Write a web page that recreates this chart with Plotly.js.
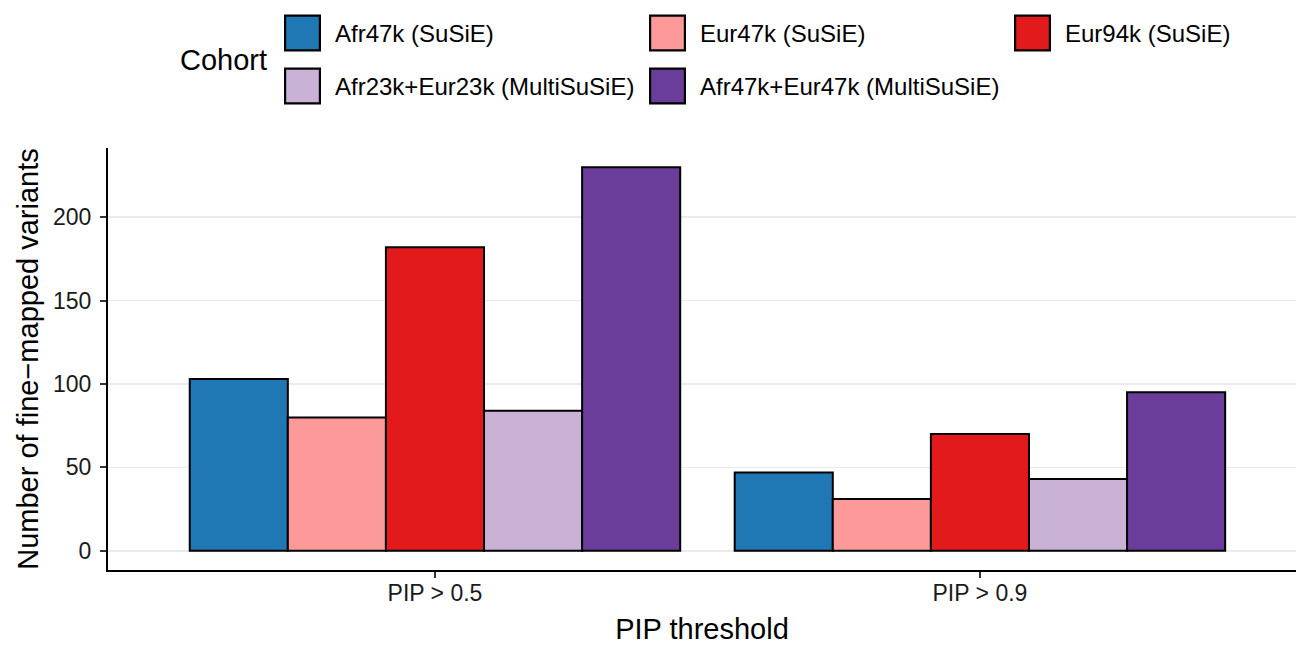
<!DOCTYPE html>
<html><head><meta charset="utf-8">
<script src="https://cdn.plot.ly/plotly-3.0.1.min.js"></script>
<style>html,body{margin:0;padding:0;background:#fff}</style>
</head><body><div id="chart" style="width:1296px;height:645px"></div>
<script>
const thresholds = ["PIP > 0.5", "PIP > 0.9"];
const cohorts = ["Afr47k (SuSiE)", "Eur47k (SuSiE)", "Eur94k (SuSiE)", "Afr23k+Eur23k (MultiSuSiE)", "Afr47k+Eur47k (MultiSuSiE)"];
const afr47kSusie = [103, 47];
const eur47kSusie = [80, 31];
const eur94kSusie = [182, 70];
const afr23kEur23kMulti = [84, 43];
const afr47kEur47kMulti = [230, 95];
const cohortColors = ["#1F78B4", "#FB9A99", "#E31A1C", "#CAB2D6", "#6A3D9A"];
const yTickVals = [0, 50, 100, 150, 200];

const seriesValues = [afr47kSusie, eur47kSusie, eur94kSusie, afr23kEur23kMulti, afr47kEur47kMulti];
const FONT = "Liberation Sans, Arial, Helvetica, sans-serif";

const data = cohorts.map((name, i) => ({
  type: "bar",
  name: name,
  x: thresholds,
  y: seriesValues[i],
  marker: {color: cohortColors[i], line: {color: "#000000", width: 2}},
  hoverinfo: "skip"
}));

const layout = {
  width: 1296, height: 645,
  paper_bgcolor: "#ffffff", plot_bgcolor: "#ffffff",
  font: {family: FONT, color: "#000000", size: 22},
  margin: {l: 108, r: 0, t: 148, b: 75},
  barmode: "group", bargap: 0.1, bargroupgap: 0,
  xaxis: {
    type: "category", range: [-0.6, 1.58],
    showline: true, linecolor: "#000000", linewidth: 2,
    ticks: "outside", ticklen: 6, tickwidth: 2, tickcolor: "#333333",
    tickfont: {size: 23, color: "#1a1a1a"}, ticklabelstandoff: -5,
    showgrid: false, zeroline: false,
    title: {text: "PIP threshold", font: {size: 29}, standoff: 16}
  },
  yaxis: {
    range: [-11.5, 241.5], tickvals: yTickVals, ticktext: yTickVals.map(String),
    showline: true, linecolor: "#000000", linewidth: 2,
    ticks: "outside", ticklen: 6, tickwidth: 2, tickcolor: "#333333",
    tickfont: {size: 23, color: "#1a1a1a"}, ticklabelstandoff: 4,
    showgrid: true, gridcolor: "#EBEBEB", gridwidth: 1.5, zeroline: false,
    title: {text: "Number of fine\u2212mapped variants", font: {size: 29}, standoff: 6}
  },
  legend: {
    orientation: "h", xref: "container", yref: "container",
    x: 180/1296, xanchor: "left", y: 1, yanchor: "top",
    font: {size: 24}, entrywidth: 320,
    title: {text: "Cohort", side: "left", font: {size: 29}},
    bgcolor: "rgba(0,0,0,0)"
  },
  showlegend: true
};

// legend styling targets (ggplot-like legend keys)
const LEG = {textLeft: 335, colStep: 365, rowCenter: 33, rowStep: 53, titleLeft: 180, titleCenter: 60, keyScale: 2.9, keyGap: 32.5};

function prependTranslate(el, dx, dy) {
  const tr = el.getAttribute("transform") || "";
  el.setAttribute("transform", "translate(" + dx + "," + dy + ") " + tr);
}

Plotly.newPlot("chart", data, layout, {staticPlot: true, displayModeBar: false}).then(function (gd) {
  const legend = gd.querySelector(".legend");
  if (!legend) return;
  legend.querySelectorAll("[clip-path]").forEach(el => el.removeAttribute("clip-path"));
  if (legend.hasAttribute("clip-path")) legend.removeAttribute("clip-path");

  legend.querySelectorAll(".legendpoints path").forEach(p => {
    p.setAttribute("transform", "scale(" + LEG.keyScale + ")");
    p.style.vectorEffect = "non-scaling-stroke";
    p.style.strokeWidth = "2.2px";
    p.style.stroke = "#000000";
  });

  const traces = Array.from(legend.querySelectorAll(".traces"));
  const info = traces.map(t => {
    const m = /translate\(\s*([-\d.e]+)[\s,]+([-\d.e]+)\s*\)/.exec(t.getAttribute("transform") || "");
    return {t: t, x: m ? +m[1] : 0, y: m ? +m[2] : 0};
  });
  const rowsY = Array.from(new Set(info.map(d => Math.round(d.y)))).sort((a, b) => a - b);
  const colCount = {};
  info.forEach(d => {
    const r = rowsY.indexOf(Math.round(d.y));
    const c = colCount[r] || 0; colCount[r] = c + 1;
    const txt = d.t.querySelector(".legendtext");
    const rc = txt.getBoundingClientRect();
    const dx = LEG.textLeft + c * LEG.colStep - rc.left;
    const dy = LEG.rowCenter + r * LEG.rowStep - (rc.top + rc.height / 2);
    prependTranslate(d.t, dx, dy);
    // align the key box to the left of its text, vertically centred on the row
    const key = d.t.querySelector(".legendpoints path");
    if (key) {
      const rk = key.getBoundingClientRect();
      const rt = txt.getBoundingClientRect();
      const kdx = (rt.left - LEG.keyGap) - (rk.left + rk.width / 2);
      const kdy = (LEG.rowCenter + r * LEG.rowStep) - (rk.top + rk.height / 2);
      key.setAttribute("transform", "translate(" + kdx + "," + kdy + ") scale(" + LEG.keyScale + ")");
    }
  });

  const title = legend.querySelector(".legendtitletext");
  if (title) {
    const rt = title.getBoundingClientRect();
    prependTranslate(title, LEG.titleLeft - rt.left, LEG.titleCenter - (rt.top + rt.height / 2));
  }
});
</script></body></html>
